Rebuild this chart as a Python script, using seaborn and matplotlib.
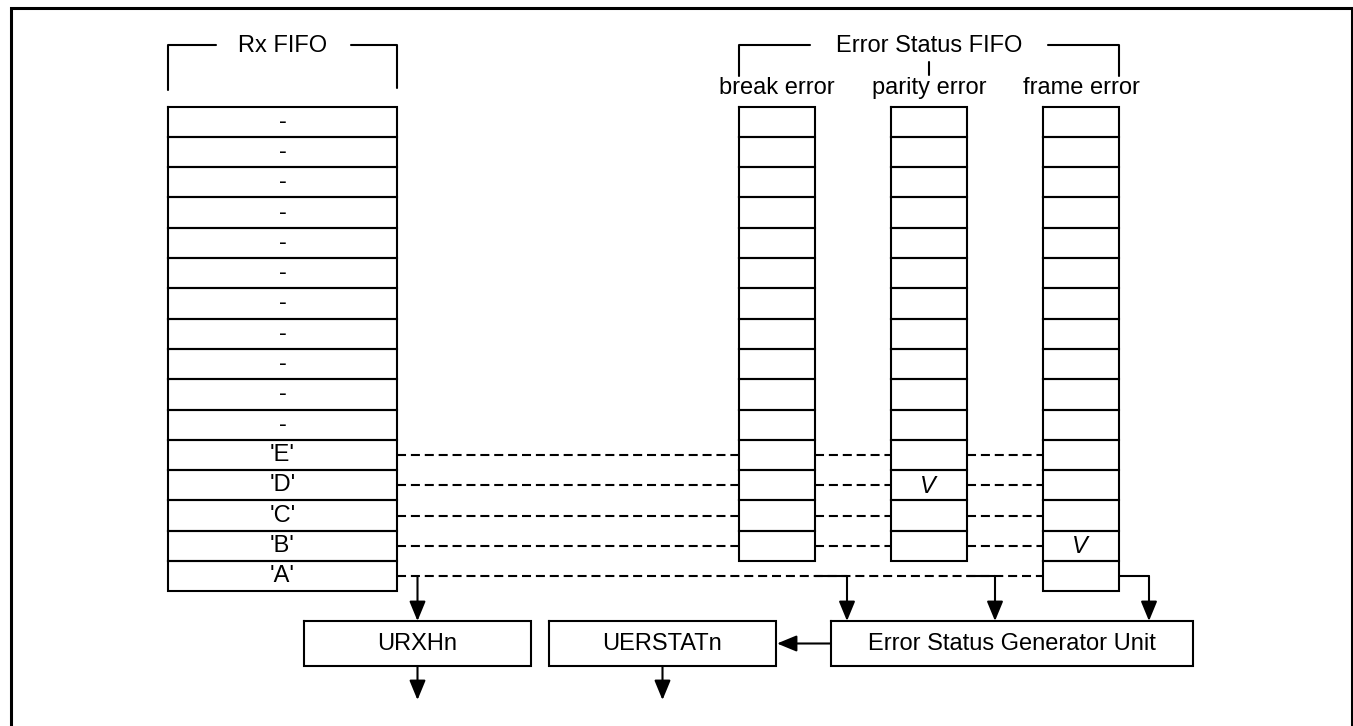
import matplotlib
matplotlib.use("Agg")
import matplotlib.pyplot as plt
import seaborn as sns

# ---------------- data ----------------
rx_rows = ["-"] * 11 + ["'E'", "'D'", "'C'", "'B'", "'A'"]          # top to bottom
dashed_rows = ["'E'", "'D'", "'C'", "'B'", "'A'"]
error_columns = ["break error", "parity error", "frame error"]
error_depth = [15, 15, 16]                                            # number of cells
error_flags = {"parity error": "'D'", "frame error": "'B'"}           # row marked V
flag_text = "V"
rx_title = "Rx FIFO"
err_title = "Error Status FIFO"
boxes = ["URXHn", "UERSTATn", "Error Status Generator Unit"]

# ---------------- layout ----------------
W, H = 1353, 726
sns.set_theme(style="white")
plt.rcParams["font.family"] = ["Liberation Sans", "DejaVu Sans"]
plt.rcParams["lines.scale_dashes"] = False
plt.rcParams["text.color"] = "black"

fig = plt.figure(figsize=(W / 100, H / 100), dpi=100)
ax = fig.add_axes([0, 0, 1, 1])
ax.set_xlim(0, W)
ax.set_ylim(H, 0)
ax.axis("off")

LW = 1.5
FS = 17
K = "black"

top, rh = 106.5, 30.3
rx_x0, rx_x1 = 168, 397
col_w = 76
col_x0 = [739, 891, 1043]


def row_y(i):
    return top + i * rh


def row_c(label):
    return row_y(rx_rows.index(label)) + rh / 2


def rect(x0, y0, x1, y1, lw=LW):
    ax.plot([x0, x1, x1, x0, x0], [y0, y0, y1, y1, y0], color=K, lw=lw,
            solid_joinstyle="miter", solid_capstyle="projecting")


def arrow(x0, y0, x1, y1):
    ax.annotate("", xy=(x1, y1), xytext=(x0, y0),
                arrowprops=dict(arrowstyle="-|>,head_length=0.8,head_width=0.33",
                                mutation_scale=15, lw=LW, color=K,
                                shrinkA=0, shrinkB=0))


# outer frame
ax.plot([10.5, 10.5, 1351.5, 1351.5], [H + 5, 7.5, 7.5, H + 5], color=K, lw=2.2,
        solid_joinstyle="miter")

# Rx FIFO
for i, lab in enumerate(rx_rows):
    rect(rx_x0, row_y(i), rx_x1, row_y(i + 1))
    ax.text((rx_x0 + rx_x1) / 2, row_y(i) + rh / 2, lab, ha="center", va="center",
            fontsize=FS, color=K)

# Rx bracket
by = 45
rcx = (rx_x0 + rx_x1) / 2
ax.plot([rx_x0, rx_x0, 216], [90, by, by], color=K, lw=LW)
ax.plot([351, rx_x1, rx_x1], [by, by, 88], color=K, lw=LW)
ax.text(rcx, 52.5, rx_title, ha="center", va="baseline", fontsize=FS, color=K)

# Error columns
for name, x0, n in zip(error_columns, col_x0, error_depth):
    for i in range(n):
        rect(x0, row_y(i), x0 + col_w, row_y(i + 1))
    ax.text(x0 + col_w / 2, 94, name, ha="center", va="baseline", fontsize=FS,
            color=K)
    if name in error_flags:
        ax.text(x0 + col_w / 2 - 1, row_c(error_flags[name]) + 1, flag_text,
                ha="center", va="center", fontsize=FS, fontstyle="italic", color=K)

# Error bracket
ecx = col_x0[1] + col_w / 2
ax.plot([col_x0[0], col_x0[0], 810], [76, by, by], color=K, lw=LW)
ax.plot([1048, col_x0[2] + col_w, col_x0[2] + col_w], [by, by, 76], color=K, lw=LW)
ax.plot([ecx, ecx], [62, 75], color=K, lw=LW)
ax.text(ecx, 52.5, err_title, ha="center", va="baseline", fontsize=FS, color=K)

# dashed links
for lab in dashed_rows:
    y = row_c(lab)
    ri = rx_rows.index(lab)
    pts = [rx_x1] + [v for x0, n in zip(col_x0[:-1], error_depth[:-1]) if ri < n
                     for v in (x0, x0 + col_w)] + [col_x0[-1]]
    for a, b in zip(pts[0::2], pts[1::2]):
        ax.plot([a, b], [y, y], color=K, lw=LW, linestyle=(0, (6.5, 3.5)))

# boxes
box_x = [(304, 531), (549, 776), (831, 1193)]
box_y0, box_y1 = 621, 666
for lab, (x0, x1) in zip(boxes, box_x):
    rect(x0, box_y0, x1, box_y1)
    ax.text((x0 + x1) / 2, (box_y0 + box_y1) / 2, lab, ha="center", va="center",
            fontsize=FS, color=K)

# arrows
ya = row_c("'A'")
rx_arrow_x = (box_x[0][0] + box_x[0][1]) / 2
arrow(rx_arrow_x, ya, rx_arrow_x, box_y0)
conn_x = [847, 995, 1149]
for x0, cx in zip(col_x0, conn_x):
    ax.plot([x0 + col_w, cx], [ya, ya], color=K, lw=LW)
    arrow(cx, ya, cx, box_y0)
arrow(box_x[2][0], (box_y0 + box_y1) / 2, box_x[1][1] + 1, (box_y0 + box_y1) / 2)
for x0, x1 in box_x[:2]:
    cx = (x0 + x1) / 2
    arrow(cx, box_y1, cx, 700)

fig.savefig("out.png", dpi=100)
